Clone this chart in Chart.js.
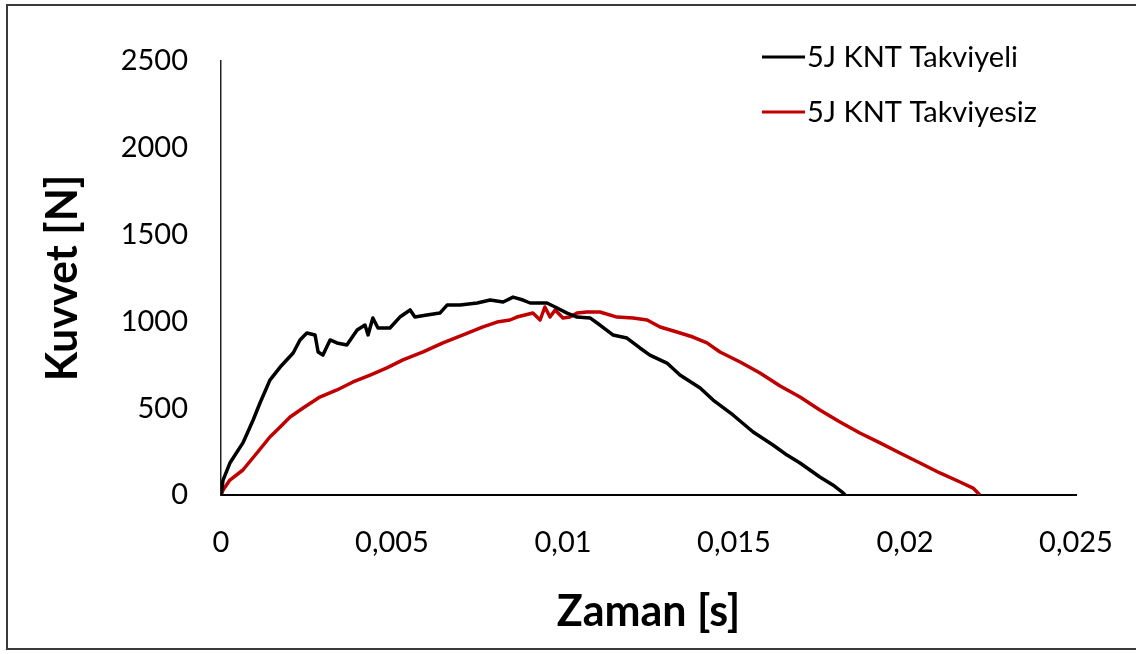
<!DOCTYPE html>
<html>
<head>
<meta charset="utf-8">
<script src="https://cdn.jsdelivr.net/npm/chart.js@4.4.1/dist/chart.umd.min.js"></script>
<style>
  html, body { margin: 0; padding: 0; background: #fff; overflow: hidden; }
  #wrap { position: relative; width: 1136px; height: 654px; overflow: hidden; }
  #chart { display: block; }
  #frame { position: absolute; left: 6px; top: 4px; width: 1140px; height: 646px; border: 2px solid #3a3a3a; box-sizing: border-box; pointer-events: none; }
</style>
</head>
<body>
<div id="wrap">
  <canvas id="chart" width="1136" height="654"></canvas>
  <div id="frame"></div>
</div>
<script>
// values
const takviyeliTime = [0, 0.00006, 0.00026, 0.00064, 0.00094, 0.00114, 0.00143, 0.00173, 0.00211, 0.00231,
  0.00251, 0.00275, 0.00284, 0.00298, 0.00319, 0.00339, 0.00368, 0.00398, 0.00421, 0.0043,
  0.00444, 0.00459, 0.00494, 0.00523, 0.00553, 0.00567, 0.00602, 0.0064, 0.00661, 0.00699,
  0.00749, 0.00787, 0.00825, 0.00854, 0.00883, 0.00904, 0.00953, 0.00977, 0.01012, 0.01041,
  0.01079, 0.01108, 0.01146, 0.01187, 0.01225, 0.01254, 0.01304, 0.01342, 0.01401, 0.01439,
  0.01497, 0.01556, 0.01614, 0.01655, 0.01693, 0.01751, 0.01789, 0.01819, 0.01825]
const takviyeliForce = [0, 86, 184, 300, 432, 530, 662, 737, 818, 893,
  933, 922, 824, 806, 893, 876, 864, 950, 979, 922,
  1020, 962, 962, 1025, 1066, 1025, 1037, 1048, 1094, 1094,
  1106, 1123, 1112, 1140, 1123, 1106, 1106, 1083, 1048, 1025,
  1020, 979, 922, 904, 847, 806, 760, 691, 616, 547,
  461, 363, 288, 230, 184, 104, 58, 12, 0]

const takviyesizTime = [0, 0.00006, 0.00026, 0.00064, 0.00105, 0.00143, 0.00173, 0.00202, 0.0024, 0.00289,
  0.00339, 0.00386, 0.00436, 0.00485, 0.00532, 0.00591, 0.00649, 0.00708, 0.00766, 0.00807,
  0.00845, 0.00865, 0.00912, 0.00933, 0.00947, 0.00962, 0.00977, 0.01, 0.0102, 0.01041,
  0.0107, 0.01108, 0.01158, 0.01205, 0.01246, 0.01284, 0.01333, 0.0138, 0.01421, 0.01459,
  0.01518, 0.01576, 0.01635, 0.01693, 0.01751, 0.0181, 0.01868, 0.01927, 0.01985, 0.02044,
  0.02102, 0.02161, 0.02199, 0.02219]
const takviyesizForce = [0, 29, 86, 144, 242, 334, 392, 449, 501, 564,
  605, 651, 691, 732, 778, 824, 876, 922, 968, 996,
  1008, 1025, 1048, 1008, 1083, 1025, 1066, 1020, 1025, 1048,
  1054, 1054, 1025, 1020, 1008, 968, 939, 910, 876, 824,
  766, 703, 628, 564, 490, 420, 357, 300, 242, 184,
  127, 75, 40, 0]

const xTicks = [0, 0.005, 0.01, 0.015, 0.02, 0.025]
const yTicks = [0, 500, 1000, 1500, 2000, 2500]

const toPoints = (xs, ys) => xs.map((x, i) => ({ x, y: ys[i] }))

// legend drawn at top right, stacked like the original
const sideLegend = {
  id: 'sideLegend',
  afterDraw(chart) {
    const ctx = chart.ctx
    const rows = [57, 112]
    ctx.save()
    ctx.font = '29px Lato'
    ctx.textBaseline = 'middle'
    chart.data.datasets.forEach((ds, i) => {
      ctx.strokeStyle = ds.borderColor
      ctx.lineWidth = 3
      ctx.beginPath()
      ctx.moveTo(762, rows[i])
      ctx.lineTo(805, rows[i])
      ctx.stroke()
      ctx.fillStyle = '#000'
      ctx.fillText(ds.label, 807, rows[i] + 1)
    })
    ctx.restore()
  }
}

const commaFmt = v => Number(v.toFixed(3)).toString().replace('.', ',')

new Chart(document.getElementById('chart'), {
  type: 'line',
  data: {
    datasets: [{
      label: '5J KNT Takviyeli',
      data: toPoints(takviyeliTime, takviyeliForce),
      borderColor: '#000000',
      borderWidth: 3.5,
      pointRadius: 0,
      tension: 0,
      borderJoinStyle: 'round'
    }, {
      label: '5J KNT Takviyesiz',
      data: toPoints(takviyesizTime, takviyesizForce),
      borderColor: '#C00000',
      borderWidth: 3.5,
      pointRadius: 0,
      tension: 0,
      borderJoinStyle: 'round'
    }]
  },
  options: {
    responsive: false,
    animation: false,
    layout: { padding: { left: 0, top: 61, right: 60, bottom: 0 } },
    scales: {
      x: {
        type: 'linear',
        min: 0,
        max: 0.025,
        afterBuildTicks: scale => { scale.ticks = xTicks.map(value => ({ value })) },
        afterFit: scale => {
          scale.height = 159
          scale.paddingLeft = 0
          scale.paddingRight = 0
        },
        grid: { display: false, drawTicks: false },
        border: { display: true, color: '#000', width: 2 },
        ticks: {
          padding: 30,
          color: '#000',
          font: { family: 'Lato', size: 29 },
          maxRotation: 0,
          callback: v => commaFmt(v)
        },
        title: {
          display: true,
          text: 'Zaman [s]',
          color: '#000',
          font: { family: 'Lato', size: 43, weight: 'bold' },
          padding: { top: 0, bottom: 16 }
        }
      },
      y: {
        min: 0,
        max: 2500,
        afterBuildTicks: scale => { scale.ticks = yTicks.map(value => ({ value })) },
        afterFit: scale => { scale.width = 221 },
        grid: { display: false, drawTicks: false },
        border: { display: true, color: '#222', width: 1.5 },
        ticks: {
          padding: 33,
          color: '#000',
          font: { family: 'Lato', size: 29 },
          callback: v => String(v)
        },
        title: {
          display: true,
          text: 'Kuvvet [N]',
          color: '#000',
          font: { family: 'Lato', size: 43, weight: 'bold' },
          padding: { top: 37, bottom: 0 }
        }
      }
    },
    plugins: {
      legend: { display: false },
      tooltip: { enabled: false }
    }
  },
  plugins: [sideLegend]
})
</script>
</body>
</html>
